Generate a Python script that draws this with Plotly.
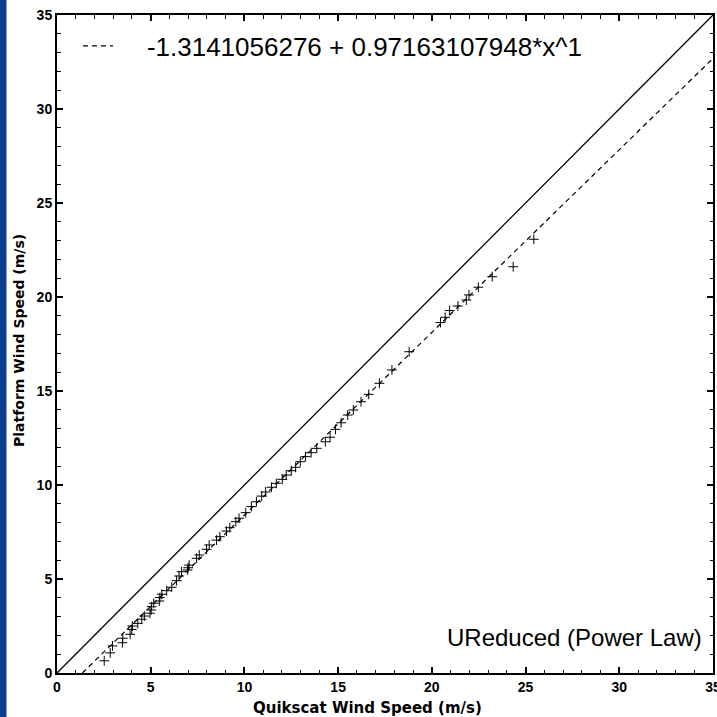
import plotly.graph_objects as go

# Scatter data (Quikscat vs Platform wind speed, m/s)
quikscat = [2.52, 2.84, 2.96, 3.49, 3.51, 3.90, 3.99, 4.02, 4.31, 4.52, 4.66, 4.96,
            5.02, 5.05, 5.16, 5.46, 5.49, 5.59, 5.85, 6.12, 6.38, 6.51, 6.65, 6.97,
            7.00, 7.05, 7.45, 7.59, 7.98, 8.12, 8.51, 8.69, 9.04, 9.22, 9.54, 9.71,
            10.07, 10.37, 10.64, 10.92, 11.13, 11.44, 11.70, 12.02, 12.23, 12.50,
            12.73, 12.98, 13.26, 13.56, 13.86, 14.32, 14.57, 14.86, 15.16, 15.51,
            15.81, 16.22, 16.63, 17.20, 17.87, 18.79, 20.46, 20.71, 20.95, 21.39,
            21.84, 21.98, 22.48, 23.22, 24.34, 25.44]
platform = [0.65, 1.07, 1.44, 1.61, 1.85, 2.06, 2.32, 2.50, 2.64, 2.86, 3.03, 3.18,
            3.35, 3.53, 3.71, 3.83, 4.01, 4.19, 4.38, 4.56, 4.91, 5.16, 5.39, 5.48,
            5.60, 5.74, 6.10, 6.28, 6.58, 6.81, 7.07, 7.25, 7.55, 7.73, 8.05, 8.23,
            8.53, 8.85, 9.11, 9.41, 9.63, 9.88, 10.09, 10.30, 10.53, 10.76,
            10.94, 11.24, 11.51, 11.72, 11.95, 12.30, 12.54, 12.96, 13.31, 13.72,
            13.99, 14.43, 14.82, 15.41, 16.12, 17.09, 18.64, 18.92, 19.28, 19.52,
            19.84, 20.11, 20.52, 21.08, 21.61, 23.07]

# Fit coefficients (from legend)
fit_intercept = -1.3141056276
fit_slope = 0.97163107948
fit_label = "-1.3141056276 + 0.97163107948*x^1"

x_title = "Quikscat Wind Speed (m/s)"
y_title = "Platform Wind Speed (m/s)"
note_text = "UReduced (Power Law)"

axis_range = [0, 35]
tick_vals = [0, 5, 10, 15, 20, 25, 30, 35]

fit_x = [-fit_intercept / fit_slope, axis_range[1]]
fit_y = [fit_intercept + fit_slope * v for v in fit_x]

fig = go.Figure()

# 1:1 line
fig.add_trace(go.Scatter(x=axis_range, y=axis_range, mode="lines",
                         line=dict(color="black", width=1.3),
                         showlegend=False, hoverinfo="skip"))
# fit line
fig.add_trace(go.Scatter(x=fit_x, y=fit_y, mode="lines",
                         line=dict(color="black", width=1.2, dash="5px,4px"),
                         name="\u00a0\u00a0\u00a0\u00a0" + fit_label, showlegend=True))
# points
fig.add_trace(go.Scatter(x=quikscat, y=platform, mode="markers",
                         marker=dict(symbol="cross-thin", size=7,
                                     line=dict(color="black", width=1)),
                         showlegend=False))

tick_font = dict(family="Liberation Sans", size=14, color="black", weight="bold")
axis_common = dict(range=axis_range, tickvals=tick_vals, ticks="inside", ticklen=6,
                   tickwidth=1.5, tickcolor="black", showline=True, linecolor="black",
                   linewidth=2, mirror="ticks", showgrid=False, zeroline=False,
                   tickfont=tick_font, ticklabeloverflow="allow", automargin=False,
                   minor=dict(dtick=1, ticks="inside", ticklen=3.5, tickwidth=1,
                              tickcolor="black", showgrid=False))

PW, PH = 656, 658  # plot area size in px

fig.update_layout(
    width=717, height=717,
    margin=dict(l=57, r=4, t=15, b=44, autoexpand=False),
    paper_bgcolor="white", plot_bgcolor="white",
    xaxis=dict(**axis_common),
    yaxis=dict(**axis_common),
    legend=dict(x=0.032, y=0.953, xanchor="left", yanchor="middle",
                bgcolor="rgba(0,0,0,0)", borderwidth=0,
                font=dict(family="Liberation Sans", size=26, color="black")),
    annotations=[
        dict(text=note_text, xref="paper", yref="paper",
             x=0.987, y=0.0547, xanchor="right", yanchor="middle", showarrow=False,
             font=dict(family="Liberation Sans", size=24, color="black")),
        dict(text=x_title, xref="paper", yref="paper",
             x=(367 - 57) / PW, y=-(708 - 673) / PH, xanchor="center", yanchor="middle",
             showarrow=False,
             font=dict(family="DejaVu Sans", size=15, color="black", weight="bold")),
        dict(text=y_title, xref="paper", yref="paper", textangle=-90,
             x=-(57 - 19) / PW, y=1 - (341 - 15) / PH, xanchor="center", yanchor="middle",
             showarrow=False,
             font=dict(family="DejaVu Sans", size=14, color="black", weight="bold")),
    ],
    shapes=[dict(type="rect", xref="paper", yref="paper",
                 x0=-57 / PW, x1=-50.5 / PW, y0=-44 / PH, y1=1 + 15 / PH,
                 fillcolor="#0b3d8f", line=dict(width=0), layer="above")],
)

fig.write_html("out.html", config={"displayModeBar": False},
               post_script="document.body.style.margin='0';document.body.style.overflow='hidden';")
